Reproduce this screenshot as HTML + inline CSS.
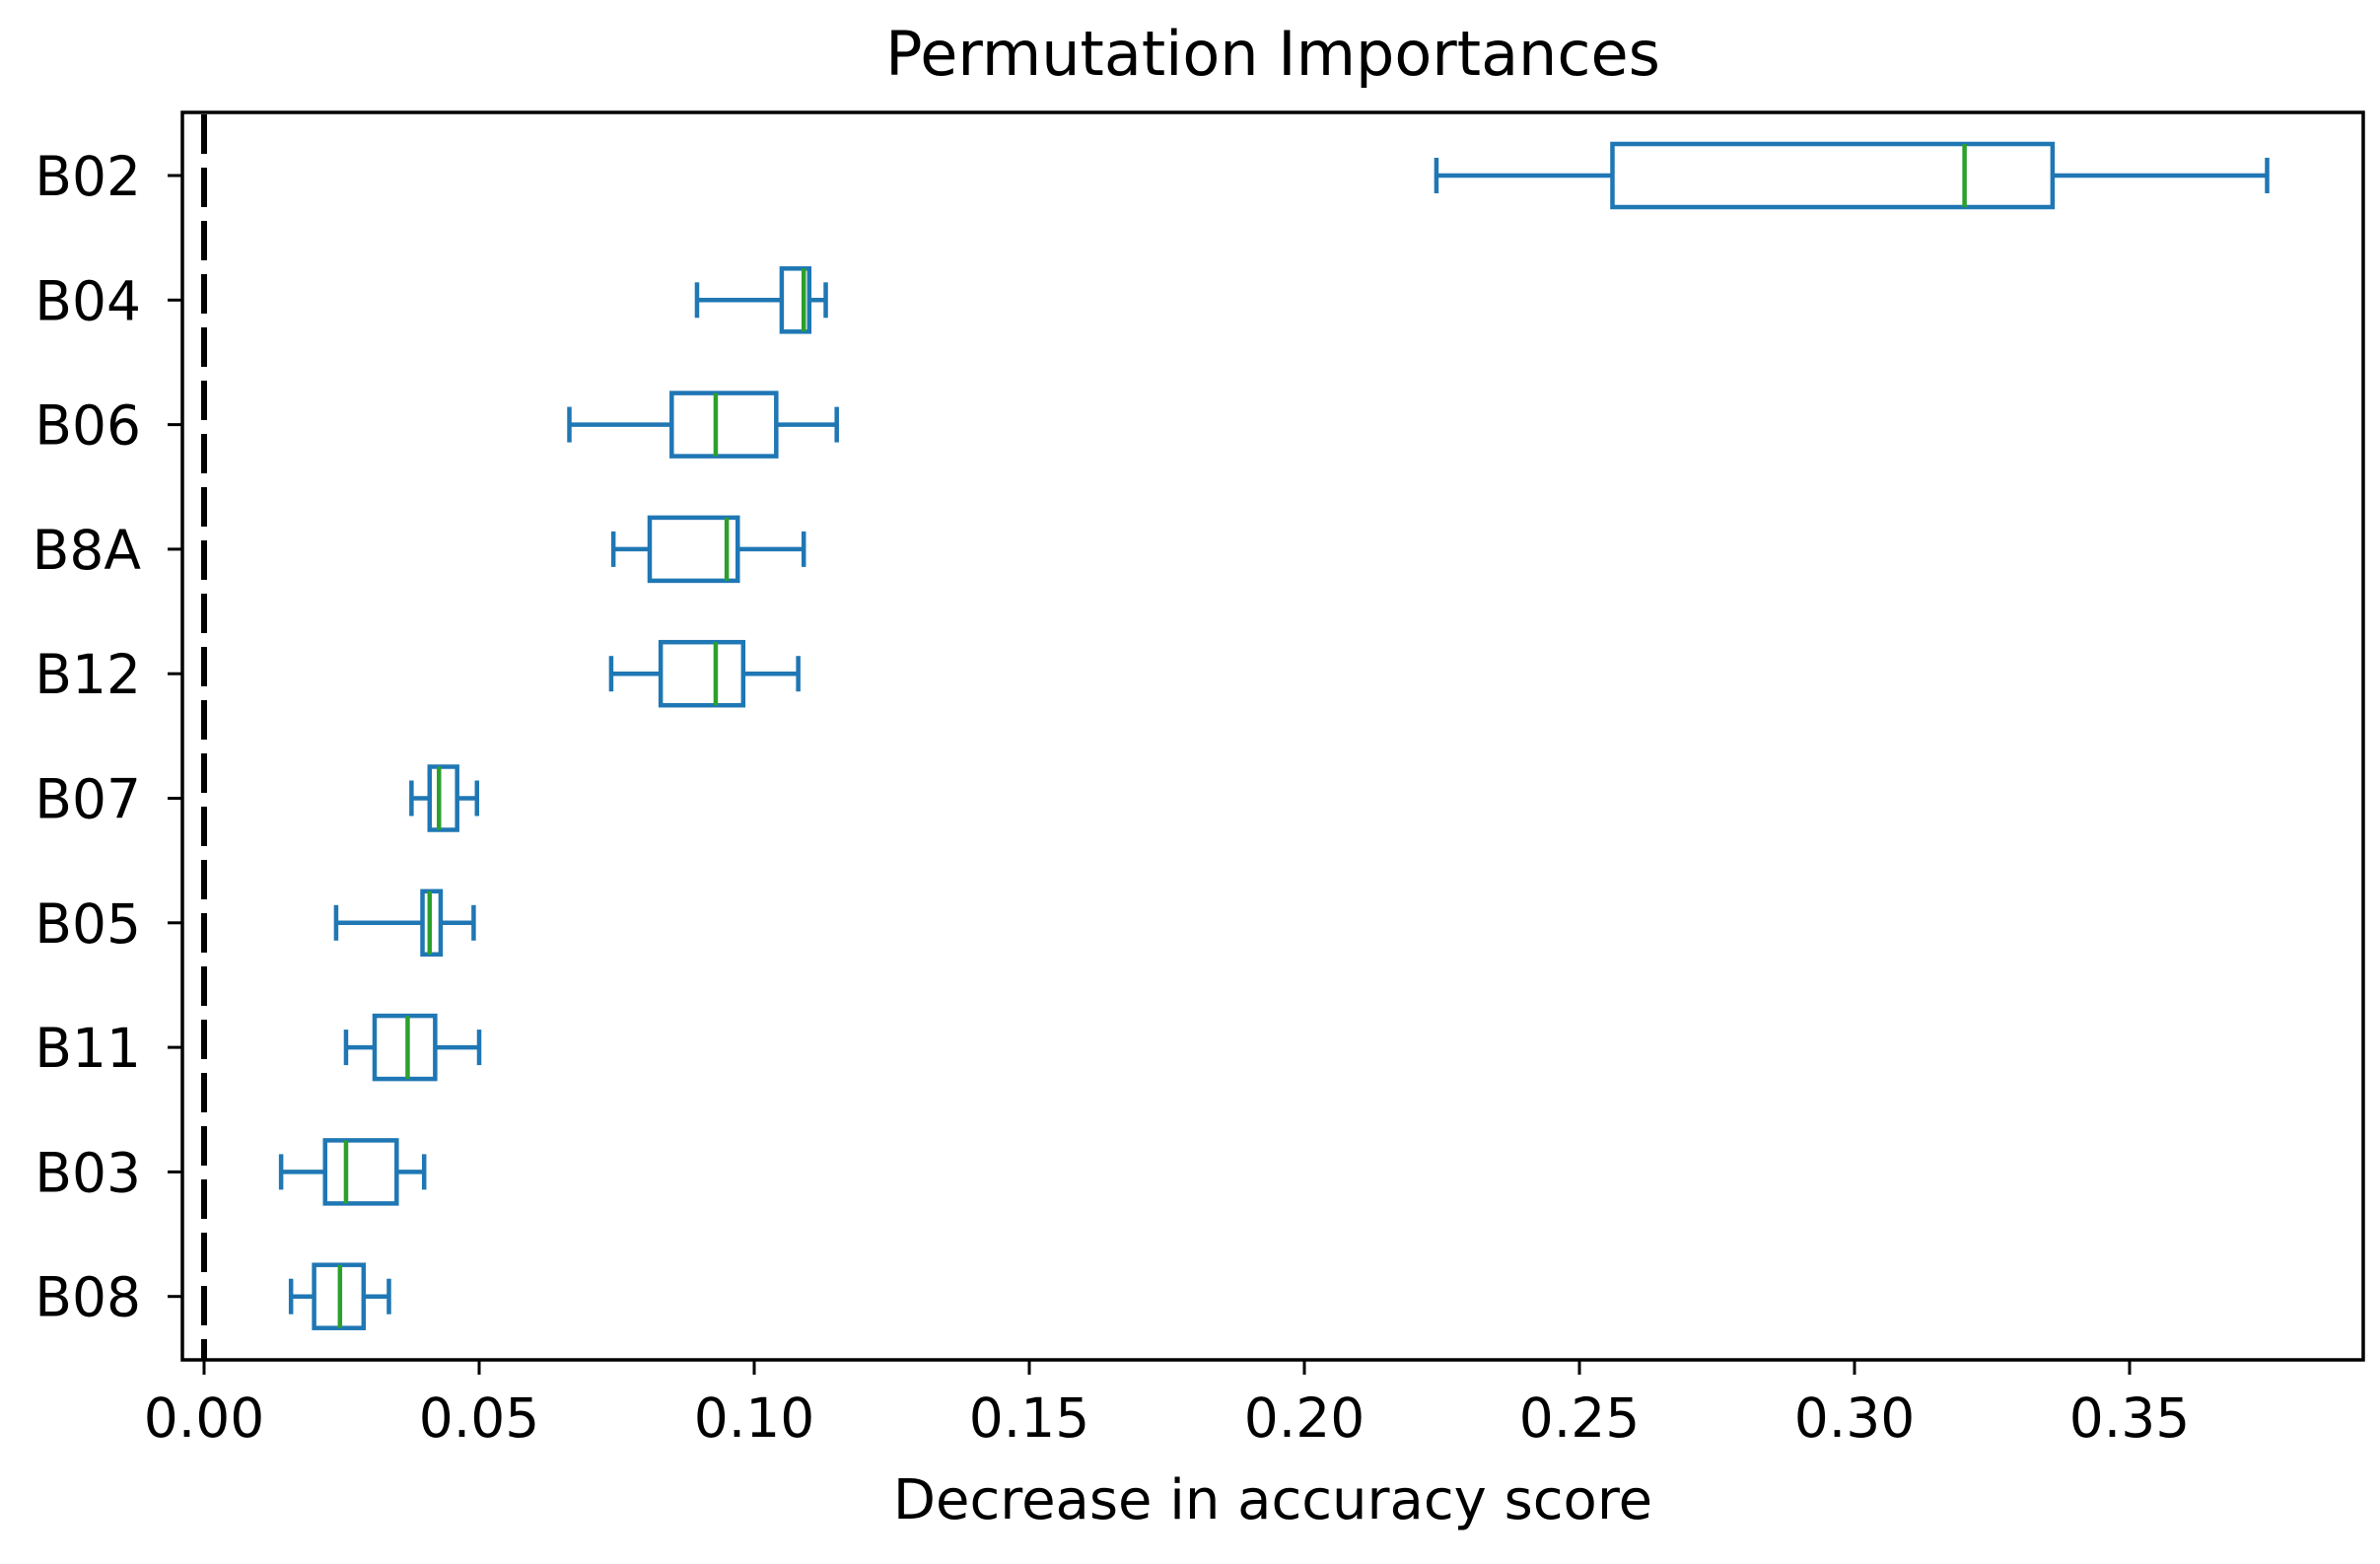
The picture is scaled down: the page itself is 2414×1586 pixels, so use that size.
<!DOCTYPE html>
<html><head><meta charset="utf-8"><style>
body{margin:0;background:#fff}
svg text{font-family:"DejaVu Sans","Liberation Sans",sans-serif;fill:#000}
</style></head><body>
<svg id="chart" width="2414" height="1581" xmlns="http://www.w3.org/2000/svg">
<text x="1291" y="76" font-size="62" text-anchor="middle">Permutation Importances</text>
<g id="plot"></g>
<rect x="185" y="114" width="2212" height="1265" fill="none" stroke="#000" stroke-width="3.5"/>
<text x="1291" y="1540" font-size="56" text-anchor="middle">Decrease in accuracy score</text>
</svg>
<script>
const categories=["B02","B04","B06","B8A","B12","B07","B05","B11","B03","B08"];
const whiskerLow=[0.224,0.0896,0.0664,0.0744,0.074,0.0377,0.024,0.0258,0.014,0.0158];
const q1=[0.256,0.105,0.085,0.081,0.083,0.041,0.0397,0.031,0.022,0.020];
const medians=[0.320,0.109,0.093,0.095,0.093,0.0427,0.041,0.037,0.0258,0.0247];
const q3=[0.336,0.110,0.104,0.097,0.098,0.046,0.043,0.042,0.035,0.029];
const whiskerHigh=[0.375,0.113,0.115,0.109,0.108,0.0496,0.049,0.050,0.040,0.0336];
const xTicks=[0,0.05,0.10,0.15,0.20,0.25,0.30,0.35];
const xTickLabels=["0.00","0.05","0.10","0.15","0.20","0.25","0.30","0.35"];
const NS="http://www.w3.org/2000/svg";
const g=document.getElementById('plot');
const xS=v=>207+v*5580;
const yS=i=>178+i*126.3;
function mk(t,a){const e=document.createElementNS(NS,t);for(const k in a)e.setAttribute(k,a[k]);g.appendChild(e);return e;}
xTicks.forEach((v,i)=>{
 const t=mk('line',{x1:xS(v),x2:xS(v),y1:1379,y2:1394,stroke:'#000','stroke-width':3});
 
 
 const l=mk('text',{x:xS(v),y:1457,'font-size':55,'text-anchor':'middle'});l.textContent=xTickLabels[i];
 
 
});
const zl=mk('line',{x1:xS(0),x2:xS(0),y1:116,y2:1378,stroke:'#000','stroke-width':6,'stroke-dasharray':'40 14'});


categories.forEach((c,i)=>{
 const y=yS(i);
 const t=mk('line',{x1:170,x2:185,y1:y,y2:y,stroke:'#000','stroke-width':3});
 
 
 const l=mk('text',{x:143,y:y+20,'font-size':55,'text-anchor':'end'});l.textContent=c;
 
 
 const bg=document.createElementNS(NS,'g');g.appendChild(bg);
 
 
 const st={stroke:'#1f77b4','stroke-width':4.5,fill:'none'};
 const add=(t,a)=>{const e=document.createElementNS(NS,t);for(const k in a)e.setAttribute(k,a[k]);for(const k in st)if(!(k in a))e.setAttribute(k,st[k]);bg.appendChild(e);return e;};
 add('line',{x1:xS(whiskerLow[i]),x2:xS(q1[i]),y1:y,y2:y});
 add('line',{x1:xS(q3[i]),x2:xS(whiskerHigh[i]),y1:y,y2:y});
 add('line',{x1:xS(whiskerLow[i]),x2:xS(whiskerLow[i]),y1:y-18,y2:y+18});
 add('line',{x1:xS(whiskerHigh[i]),x2:xS(whiskerHigh[i]),y1:y-18,y2:y+18});
 add('rect',{x:xS(q1[i]),y:y-32,width:xS(q3[i])-xS(q1[i]),height:64});
 add('line',{x1:xS(medians[i]),x2:xS(medians[i]),y1:y-32,y2:y+32,stroke:'#2ca02c'});
});
</script>
</body></html>
